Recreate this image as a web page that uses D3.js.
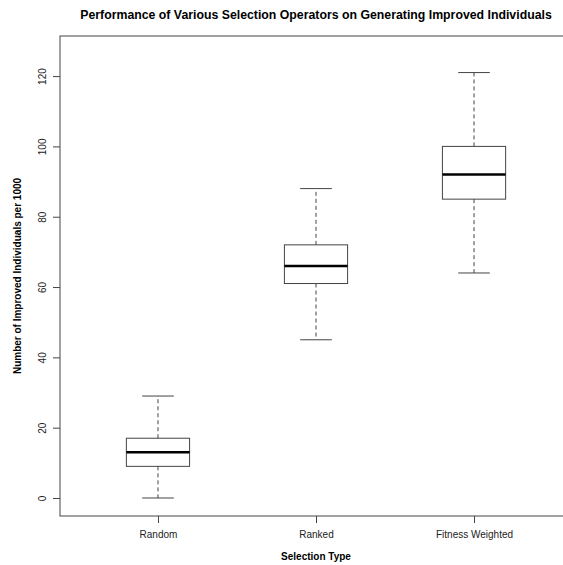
<!DOCTYPE html>
<html>
<head>
<meta charset="utf-8">
<script src="https://cdn.jsdelivr.net/npm/d3@7"></script>
<style>
  body { margin: 0; background: #fff; }
  svg { display: block; font-family: "Liberation Sans", Arial, sans-serif; }
</style>
</head>
<body>
<svg id="chart"></svg>
<script>
// box statistics
const categories = ['Random', 'Ranked', 'Fitness Weighted'];
const whiskerLow = [0, 45, 64];
const q1 = [9, 61, 85];
const medians = [13, 66, 92];
const q3 = [17, 72, 100];
const whiskerHigh = [29, 88, 121];
const yTicks = [0, 20, 40, 60, 80, 100, 120];

const boxes = categories.map((c, i) => ({
  name: c, pos: i + 1,
  lo: whiskerLow[i], q1: q1[i], med: medians[i], q3: q3[i], hi: whiskerHigh[i]
}));

const config = {
  width: 563, height: 565,
  // plot region (right edge runs past the window, like the original)
  left: 60, top: 36, right: 572, bottom: 516
};

const svg = d3.select('#chart')
  .attr('width', config.width)
  .attr('height', config.height);

const xScale = d3.scaleLinear()
  .domain([0.38, 3.62])
  .range([config.left, config.right]);

const yScale = d3.scaleLinear()
  .domain([-5.12, 131.4])
  .range([config.bottom, config.top]);

const lineCol = '#444';

// ---- BOXES ----
const boxHalf = 0.2, capHalf = 0.1;

const g = svg.selectAll('.box')
  .data(boxes)
  .join('g')
  .attr('class', 'box');

// dashed whiskers
g.append('line')
  .attr('x1', d => xScale(d.pos)).attr('x2', d => xScale(d.pos))
  .attr('y1', d => yScale(d.q3)).attr('y2', d => yScale(d.hi))
  .attr('stroke', lineCol).attr('stroke-dasharray', '4,3');
g.append('line')
  .attr('x1', d => xScale(d.pos)).attr('x2', d => xScale(d.pos))
  .attr('y1', d => yScale(d.q1)).attr('y2', d => yScale(d.lo))
  .attr('stroke', lineCol).attr('stroke-dasharray', '4,3');

// staples
['lo', 'hi'].forEach(k => {
  g.append('line')
    .attr('x1', d => xScale(d.pos - capHalf)).attr('x2', d => xScale(d.pos + capHalf))
    .attr('y1', d => yScale(d[k])).attr('y2', d => yScale(d[k]))
    .attr('stroke', lineCol);
});

g.append('rect')
  .attr('x', d => xScale(d.pos - boxHalf))
  .attr('width', d => xScale(d.pos + boxHalf) - xScale(d.pos - boxHalf))
  .attr('y', d => yScale(d.q3))
  .attr('height', d => yScale(d.q1) - yScale(d.q3))
  .attr('fill', 'none')
  .attr('stroke', lineCol);

g.append('line')
  .attr('x1', d => xScale(d.pos - boxHalf)).attr('x2', d => xScale(d.pos + boxHalf))
  .attr('y1', d => yScale(d.med)).attr('y2', d => yScale(d.med))
  .attr('stroke', '#000').attr('stroke-width', 2.5);

// ---- FRAME ----
svg.append('rect')
  .attr('x', config.left).attr('y', config.top)
  .attr('width', config.right - config.left)
  .attr('height', config.bottom - config.top)
  .attr('fill', 'none')
  .attr('stroke', lineCol);

// ---- AXES ----
const yAxis = svg.append('g')
  .attr('transform', `translate(${config.left},0)`)
  .call(d3.axisLeft(yScale).tickValues(yTicks).tickSize(7).tickSizeOuter(0));
yAxis.select('.domain').remove();
yAxis.selectAll('.tick line').attr('stroke', lineCol);
yAxis.selectAll('.tick text')
  .attr('x', 0).attr('dy', 0)
  .attr('transform', 'translate(-14,0) rotate(-90)')
  .attr('text-anchor', 'middle')
  .attr('font-size', 10)
  .attr('font-family', '"Liberation Sans", Arial, sans-serif')
  .attr('fill', '#222');

const xAxis = svg.append('g')
  .attr('transform', `translate(0,${config.bottom})`)
  .call(d3.axisBottom(xScale).tickValues(boxes.map(d => d.pos))
    .tickFormat((d, i) => categories[i]).tickSize(7).tickSizeOuter(0));
xAxis.select('.domain').remove();
xAxis.selectAll('.tick line').attr('stroke', lineCol);
xAxis.selectAll('.tick text')
  .attr('y', 22).attr('dy', 0)
  .attr('font-size', 10)
  .attr('font-family', '"Liberation Sans", Arial, sans-serif')
  .attr('fill', '#222');

// ---- TITLES ----
const midX = (config.left + config.right) / 2;
const midY = (config.top + config.bottom) / 2;

svg.append('text')
  .attr('x', midX).attr('y', 19)
  .attr('text-anchor', 'middle')
  .attr('font-weight', 'bold').attr('font-size', 12.3)
  .text('Performance of Various Selection Operators on Generating Improved Individuals');

svg.append('text')
  .attr('x', midX).attr('y', 560)
  .attr('text-anchor', 'middle')
  .attr('font-weight', 'bold').attr('font-size', 10)
  .text('Selection Type');

svg.append('text')
  .attr('transform', `translate(21,${midY}) rotate(-90)`)
  .attr('text-anchor', 'middle')
  .attr('font-weight', 'bold').attr('font-size', 10)
  .text('Number of Improved Individuals per 1000');
</script>
</body>
</html>
